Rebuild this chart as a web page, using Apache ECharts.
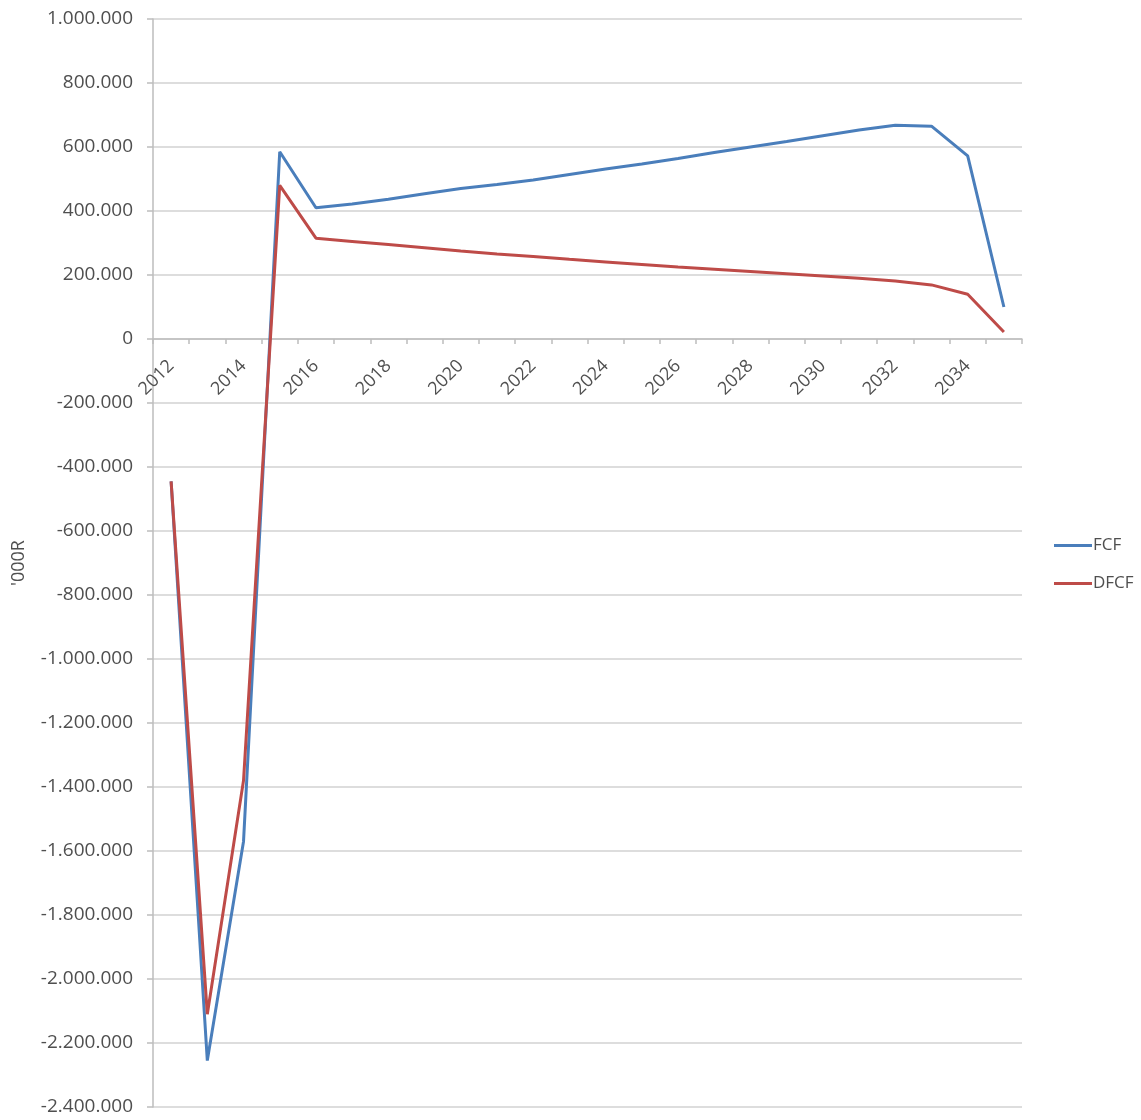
<!DOCTYPE html>
<html>
<head>
<meta charset="utf-8">
<script src="https://cdn.jsdelivr.net/npm/echarts@6/dist/echarts.min.js"></script>
<style>
  html, body { margin: 0; padding: 0; background: #ffffff; }
  #chart { width: 1141px; height: 1120px; }
</style>
</head>
<body>
<div id="chart"></div>
<script>
// Cash flow projection, thousands of rand
const years = ['2012','2013','2014','2015','2016','2017','2018','2019','2020','2021','2022','2023',
               '2024','2025','2026','2027','2028','2029','2030','2031','2032','2033','2034','2035'];

const fcf = [-445000, -2255000, -1570000, 585000, 410000, 422000, 437000, 454000, 470000, 483000,
             497000, 514000, 531000, 547000, 564000, 583000, 600000, 617000, 635000, 653000,
             668000, 665000, 572000, 100000];

const dfcf = [-445000, -2110000, -1380000, 480000, 315000, 305000, 295000, 285000, 275000, 266000,
              258000, 249000, 241000, 233000, 225000, 218000, 211000, 204000, 197000, 190000,
              181000, 169000, 140000, 22000];

const yMin = -2400000;
const yMax = 1000000;
const yStep = 200000;

// thousands separated by dots, e.g. -1.200.000
function fmt(v) {
  const neg = v < 0;
  let s = String(Math.abs(Math.round(v)));
  s = s.replace(/\B(?=(\d{3})+(?!\d))/g, '.');
  return (neg ? '-' : '') + s;
}

const textColor = '#4f4f4f';
const gridColor = '#d2d2d2';
const axisColor = '#bdbdbd';
const font = 'Open Sans';

const chart = echarts.init(document.getElementById('chart'), null, { renderer: 'canvas' });

function buildOption(labelOffset) {
  return {
    animation: false,
    backgroundColor: '#ffffff',
    grid: { left: 153, right: 119, top: 19, bottom: 13, containLabel: false, outerBoundsMode: 'none' },
    legend: {
      orient: 'vertical',
      left: 1049,
      top: 532,
      itemWidth: 38,
      itemHeight: 3,
      itemGap: 21,
      icon: 'rect',
      textStyle: { color: textColor, fontFamily: font, fontSize: 17, padding: [0, 0, 0, -4] },
      data: ['FCF', 'DFCF']
    },
    xAxis: [
      {
        // category axis drawn across the zero line
        type: 'category',
        data: years,
        boundaryGap: true,
        axisLine: { onZero: true, lineStyle: { color: axisColor, width: 1.5 } },
        axisTick: { show: true, interval: 0, length: 5, lineStyle: { color: axisColor, width: 1.5 } },
        axisLabel: { show: false },
        splitLine: { show: false }
      },
      {
        // year labels placed just under the zero line
        type: 'category',
        data: years,
        boundaryGap: true,
        position: 'bottom',
        offset: labelOffset,
        axisLine: { show: false, onZero: false },
        axisTick: { show: false },
        axisLabel: {
          interval: 1,
          rotate: 45,
          margin: 24,
          color: textColor,
          fontFamily: font,
          fontSize: 18
        },
        splitLine: { show: false }
      }
    ],
    yAxis: {
      type: 'value',
      min: yMin,
      max: yMax,
      interval: yStep,
      name: "'000R",
      nameLocation: 'middle',
      nameGap: 125,
      nameRotate: 90,
      nameTextStyle: { color: textColor, fontFamily: font, fontSize: 18 },
      axisLine: { show: true, lineStyle: { color: axisColor, width: 1.5 } },
      axisTick: { show: true, length: 6, lineStyle: { color: axisColor, width: 1.5 } },
      axisLabel: {
        margin: 20,
        color: textColor,
        fontFamily: font,
        fontSize: 19,
        formatter: fmt
      },
      splitLine: { show: true, lineStyle: { color: gridColor, width: 1.5 } }
    },
    series: [
      {
        name: 'FCF',
        type: 'line',
        xAxisIndex: 0,
        data: fcf,
        symbol: 'none',
        lineStyle: { color: '#4a7ebb', width: 3 },
        itemStyle: { color: '#4a7ebb' },
        z: 2
      },
      {
        name: 'DFCF',
        type: 'line',
        xAxisIndex: 0,
        data: dfcf,
        symbol: 'none',
        lineStyle: { color: '#be4b48', width: 3 },
        itemStyle: { color: '#be4b48' },
        z: 3
      }
    ]
  };
}

chart.setOption(buildOption(0));
// lift the year labels from the grid bottom up to the zero line
const zeroY = chart.convertToPixel({ yAxisIndex: 0 }, 0);
const bottomY = chart.convertToPixel({ yAxisIndex: 0 }, yMin);
chart.setOption(buildOption(zeroY - bottomY));
</script>
</body>
</html>
